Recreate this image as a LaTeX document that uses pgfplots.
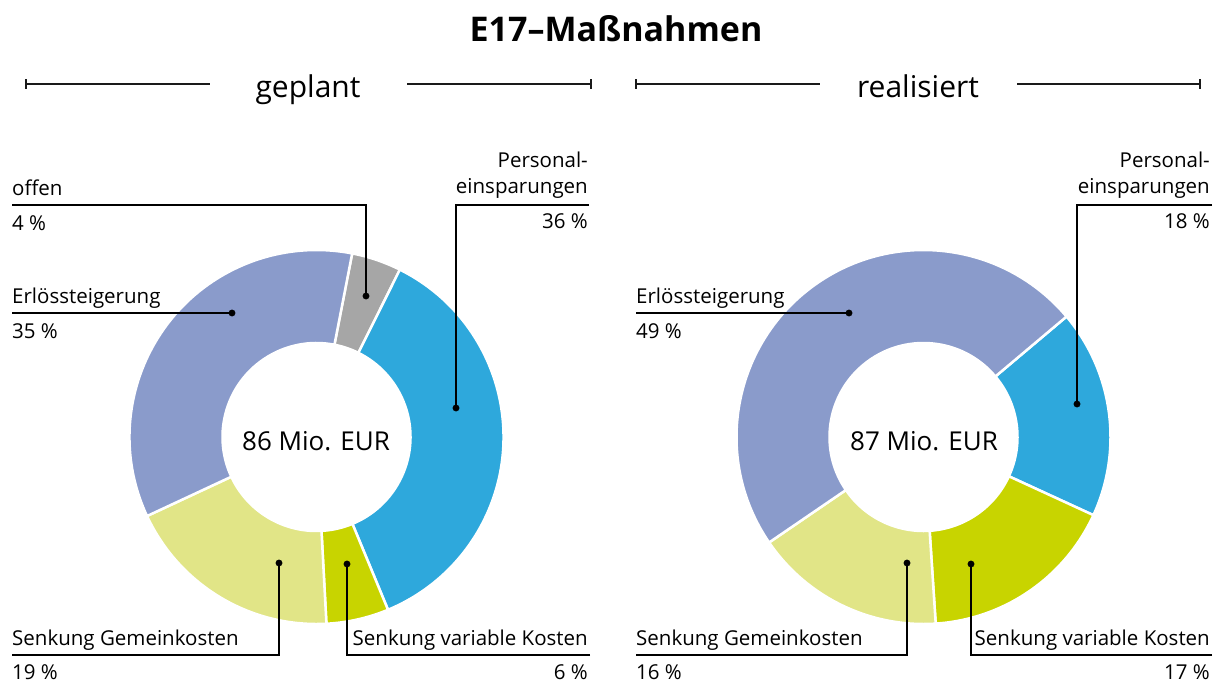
\documentclass[border=0pt]{standalone}
\usepackage{pgfplots}
\pgfplotsset{compat=1.18}
\usepackage{pgfplotstable}
\usetikzlibrary{calc}
\usepackage{fontspec}
\setmainfont{Open Sans}
\definecolor{cGray}{HTML}{A6A6A6}
\definecolor{cBlue}{HTML}{2EA8DC}
\definecolor{cVar}{HTML}{C8D400}
\definecolor{cGem}{HTML}{E1E587}
\definecolor{cErl}{HTML}{8A9BCB}
\definecolor{cLine}{HTML}{1A1A1A}
\newcommand\lab{\fontsize{20.5}{24}\selectfont}

\pgfplotstableread{
value color
4.3  cGray
36.4 cBlue
5.4  cVar
18.9 cGem
35.0 cErl
}\plannedtable

\pgfplotstableread{
value color
18.0 cBlue
17.1 cVar
16.5 cGem
48.4 cErl
}\realtable

% #1 table, #2 cx, #3 cy, #4 start angle (clockwise on screen; y axis reversed)
\newcommand\donut[4]{%
  \pgfplotstablegetrowsof{#1}%
  \pgfmathtruncatemacro\lastrow{\pgfplotsretval-1}%
  \pgfmathsetmacro\curang{-(#4)}%
  \pgfplotsforeachungrouped \r in {0,...,\lastrow}{%
    \pgfplotstablegetelem{\r}{value}\of{#1}\let\val\pgfplotsretval
    \pgfplotstablegetelem{\r}{color}\of{#1}\let\col\pgfplotsretval
    \pgfmathsetmacro\endang{\curang+3.6*\val}%
    \edef\temp{\noexpand\fill[\col,draw=white,line width=2.5pt]
      ($(axis cs:#2,#3)+(\curang:187)$) arc[start angle=\curang,end angle=\endang,radius=187]
      -- ($(axis cs:#2,#3)+(\endang:94)$) arc[start angle=\endang,end angle=\curang,radius=94] -- cycle;}%
    \temp
    \global\let\curang\endang
  }%
}

\begin{document}
\begin{tikzpicture}
\begin{axis}[width=1214pt,height=683pt,scale only axis,
  xmin=0,xmax=1214,ymin=0,ymax=683,y dir=reverse,
  hide axis,clip=false]
\addplot[draw=none] coordinates {(0,0) (1214,683)};

% donuts
\donut{\plannedtable}{316.5}{437}{79}
\donut{\realtable}{923.5}{437}{40.1}

% title and headers
\node[anchor=base,inner sep=0] at (axis cs:616,41) {\fontsize{34}{38}\selectfont\bfseries E17–Maßnahmen};
\node[anchor=base,inner sep=0] at (axis cs:308,97) {\fontsize{30}{34}\selectfont geplant};
\node[anchor=base,inner sep=0] at (axis cs:918,97) {\fontsize{30}{34}\selectfont realisiert};
\addplot[cLine,line width=1.5pt] coordinates {(26,84) (210,84)};
\addplot[cLine,line width=1.5pt] coordinates {(26,79) (26,89)};
\addplot[cLine,line width=1.5pt] coordinates {(407,84) (591,84)};
\addplot[cLine,line width=1.5pt] coordinates {(591,79) (591,89)};
\addplot[cLine,line width=1.5pt] coordinates {(636,84) (820,84)};
\addplot[cLine,line width=1.5pt] coordinates {(636,79) (636,89)};
\addplot[cLine,line width=1.5pt] coordinates {(1017,84) (1200,84)};
\addplot[cLine,line width=1.5pt] coordinates {(1200,79) (1200,89)};

% center texts
\node[anchor=center,inner sep=0] at (axis cs:316,441) {\fontsize{26}{30}\selectfont 86 Mio. EUR};
\node[anchor=center,inner sep=0] at (axis cs:924,441) {\fontsize{26}{30}\selectfont 87 Mio. EUR};

% leader lines (left)
\addplot[black,line width=1.4pt] coordinates {(12,205) (366,205) (366,296)};
\addplot[black,line width=1.4pt] coordinates {(589,205) (456,205) (456,408)};
\addplot[black,line width=1.4pt] coordinates {(12,313) (232,313)};
\addplot[black,line width=1.4pt] coordinates {(12,655) (279,655) (279,563)};
\addplot[black,line width=1.4pt] coordinates {(590,655) (347,655) (347,564)};
% leader lines (right)
\addplot[black,line width=1.4pt] coordinates {(1212,205) (1077,205) (1077,404)};
\addplot[black,line width=1.4pt] coordinates {(636,313) (849,313)};
\addplot[black,line width=1.4pt] coordinates {(636,655) (907,655) (907,563)};
\addplot[black,line width=1.4pt] coordinates {(1212,655) (971,655) (971,564)};
% dots
\addplot[only marks,mark=*,mark size=3.2pt,black] coordinates {
 (366,296) (456,408) (232,313) (279,563) (347,564)
 (1077,404) (849,313) (907,563) (971,564)};

% labels left
\node[anchor=base west,inner sep=0] at (axis cs:12,195) {\lab offen};
\node[anchor=base west,inner sep=0] at (axis cs:12,230) {\lab 4 \%};
\node[anchor=base east,inner sep=0] at (axis cs:588,167) {\lab Personal-};
\node[anchor=base east,inner sep=0] at (axis cs:588,193) {\lab einsparungen};
\node[anchor=base east,inner sep=0] at (axis cs:588,228) {\lab 36 \%};
\node[anchor=base west,inner sep=0] at (axis cs:12,303) {\lab Erlössteigerung};
\node[anchor=base west,inner sep=0] at (axis cs:12,338) {\lab 35 \%};
\node[anchor=base west,inner sep=0] at (axis cs:12,645) {\lab Senkung Gemeinkosten};
\node[anchor=base west,inner sep=0] at (axis cs:12,679) {\lab 19 \%};
\node[anchor=base east,inner sep=0] at (axis cs:588,645) {\lab Senkung variable Kosten};
\node[anchor=base east,inner sep=0] at (axis cs:588,679) {\lab 6 \%};
% labels right
\node[anchor=base east,inner sep=0] at (axis cs:1210,167) {\lab Personal-};
\node[anchor=base east,inner sep=0] at (axis cs:1210,193) {\lab einsparungen};
\node[anchor=base east,inner sep=0] at (axis cs:1210,228) {\lab 18 \%};
\node[anchor=base west,inner sep=0] at (axis cs:636,303) {\lab Erlössteigerung};
\node[anchor=base west,inner sep=0] at (axis cs:636,338) {\lab 49 \%};
\node[anchor=base west,inner sep=0] at (axis cs:636,645) {\lab Senkung Gemeinkosten};
\node[anchor=base west,inner sep=0] at (axis cs:636,679) {\lab 16 \%};
\node[anchor=base east,inner sep=0] at (axis cs:1210,645) {\lab Senkung variable Kosten};
\node[anchor=base east,inner sep=0] at (axis cs:1210,679) {\lab 17 \%};
\end{axis}
\end{tikzpicture}
\end{document}
